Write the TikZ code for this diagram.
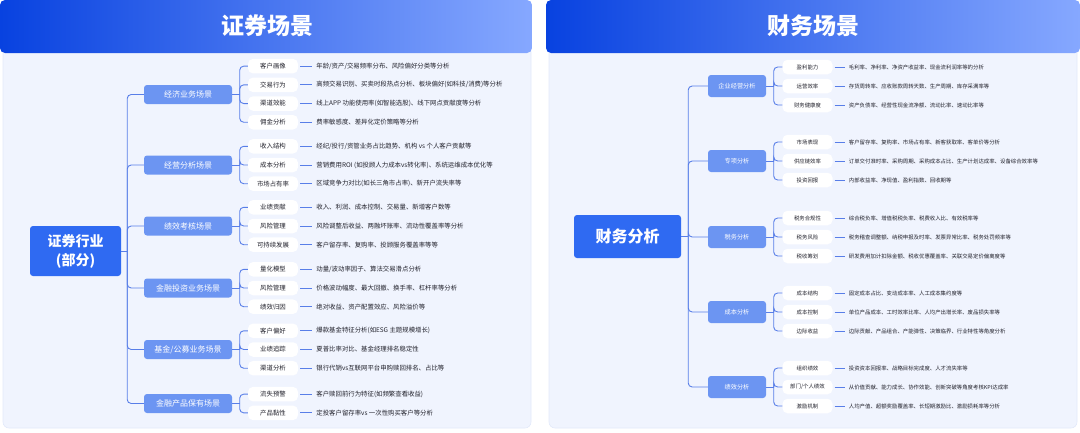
\documentclass[tikz,border=0pt]{standalone}
\usepackage{fontspec}
\newfontfamily\cjk{Noto Sans CJK SC}
\usetikzlibrary{positioning,calc}
\definecolor{zhulan}{RGB}{47,106,242}
\definecolor{fenlan}{RGB}{108,149,242}
\definecolor{xianlan}{RGB}{88,126,232}
\definecolor{dise}{RGB}{240,244,254}
\definecolor{bianse}{RGB}{226,233,250}
\definecolor{wenzi}{RGB}{35,35,45}
\definecolor{biaoshen}{RGB}{8,66,224}
\definecolor{biaoqian}{RGB}{134,168,255}
\tikzset{
  biaoti/.style={rounded corners=5pt,left color=biaoshen,right color=biaoqian},
  mianban/.style={rounded corners=6pt,fill=dise,draw=bianse,line width=0.6pt},
  zhu/.style={fill=zhulan,rounded corners=3pt,text=white,align=center,inner sep=0pt},
  fen/.style={fill=fenlan,rounded corners=3pt,text=white,inner sep=0pt,
              minimum width=88pt,minimum height=19pt},
  xiao/.style={fill=white,rounded corners=5pt,text=wenzi,inner sep=0pt,
               minimum width=50pt,minimum height=14.5pt},
  shuoming/.style={text=wenzi,inner sep=0pt},
  xian/.style={draw=xianlan,line width=0.9pt,rounded corners=4pt},
  duan/.style={draw=xianlan,line width=0.9pt},
}
% #1 parent, #2 x of the small boxes, #3 y before the first row, #4 row step, #5 gap, #6 rows
\newcommand{\fenzhi}[6]{%
  \draw[xian] (#1.east) -- ++(7.5,0) coordinate (#1k);
  \foreach \ming/\shuo [count=\k] in {#6}{
    \node[xiao] (#1-\k) at (#2,#3+#4*\k) {\ming};
    \node[shuoming,right=#5 of #1-\k] (#1-\k-s) {\shuo};
    \draw[duan] ([xshift=2pt]#1-\k.east) -- ([xshift=-4pt]#1-\k-s.west);
    \draw[xian] (#1k) |- (#1-\k.west);
  }}

\begin{document}
\begin{tikzpicture}[x=1pt,y=-1pt,font=\cjk]
\useasboundingbox (0,0) rectangle (1080,432);

% ---- 证券场景 ----
\path[mianban] (3,46) rectangle (531,428);
\path[biaoti] (0,0) rectangle (532,53);
\node[text=white,font=\cjk\bfseries\fontsize{23}{26}\selectfont] (t1) at (267,26) {证券场景};
\node[zhu,minimum width=91pt,minimum height=50pt,font=\cjk\bfseries\fontsize{14}{19}\selectfont]
  (zq) at (75.5,251) {证券行业\\(部分)};
\begin{scope}[font=\cjk\fontsize{6.4}{8}\selectfont]
  \foreach \y/\ming [count=\i] in {94.5/经济业务场景,165/经营分析场景,226/绩效考核场景,
      288/金融投资业务场景,349.5/{基金/公募业务场景},403.5/金融产品保有场景}
    \node[fen,font=\cjk\fontsize{8}{10}\selectfont] (z\i) at (188,\y) {\ming};
  \draw[xian] (zq.east) -- ++(6,0) coordinate (zqk);
  \foreach \i in {1,...,6} \draw[xian] (zqk) |- (z\i.west);
  \fenzhi{z1}{273}{47.45}{18.7}{18pt}{客户画像/{年龄/资产/交易频率分布、风险偏好分类等分析},
    交易行为/{高频交易识别、买卖时段热点分析、板块偏好(如科技/消费)等分析},
    渠道效能/{线上APP 功能使用率(如智能选股)、线下网点贡献度等分析},
    佣金分析/{费率敏感度、差异化定价策略等分析}}
  \fenzhi{z2}{273}{127.6}{18.7}{18pt}{收入结构/{经纪/投行/资管业务占比趋势、机构 vs 个人客户贡献等},
    成本分析/{营销费用ROI (如投顾人力成本vs转化率)、系统运维成本优化等},
    市场占有率/{区域竞争力对比(如长三角市占率)、新开户流失率等}}
  \fenzhi{z3}{273}{188.6}{18.7}{18pt}{业绩贡献/{收入、利润、成本控制、交易量、新增客户数等},
    风险管理/{风险调整后收益、两融坏账率、流动性覆盖率等分析},
    可持续发展/{客户留存率、复购率、投顾服务覆盖率等等}}
  \fenzhi{z4}{273}{250.6}{18.7}{18pt}{量化模型/{动量/波动率因子、算法交易滑点分析},
    风险管理/{价格波动幅度、最大回撤、换手率、杠杆率等分析},
    绩效归因/{绝对收益、资产配置效应、风险溢价等}}
  \fenzhi{z5}{273}{312.1}{18.7}{18pt}{客户偏好/{爆款基金特征分析(如ESG 主题规模增长)},
    业绩追踪/{夏普比率对比、基金经理排名稳定性},
    渠道分析/{银行代销vs互联网平台申购赎回排名、占比等}}
  \fenzhi{z6}{273}{375.45}{18.7}{18pt}{流失预警/{客户赎回前行为特征(如频繁查看收益)},
    产品黏性/{定投客户留存率vs 一次性购买客户等分析}}
\end{scope}

% ---- 财务场景 ----
\path[mianban] (549,46) rectangle (1077,428);
\path[biaoti] (546,0) rectangle (1080,53);
\node[text=white,font=\cjk\bfseries\fontsize{23}{26}\selectfont] (t2) at (813,26) {财务场景};
\node[zhu,minimum width=107pt,minimum height=43pt,font=\cjk\bfseries\fontsize{16}{19}\selectfont]
  (zr) at (627.5,236.5) {财务分析};
\begin{scope}[font=\cjk\fontsize{5.4}{7}\selectfont]
  \foreach \y/\ming [count=\i] in {86/企业经营分析,161/专项分析,237/税务分析,312/成本分析,387/绩效分析}
    \node[fen,minimum width=58pt,minimum height=22pt,font=\cjk\fontsize{6.2}{8}\selectfont]
      (c\i) at (737,\y) {\ming};
  \draw[xian] (zr.east) -- ++(7,0) coordinate (zrk);
  \foreach \i in {1,...,5} \draw[xian] (zrk) |- (c\i.west);
  \fenzhi{c1}{807.5}{48}{19}{16pt}{盈利能力/{毛利率、净利率、净资产收益率、现金流利润率等的分析},
    运营效率/{存货周转率、应收账款周转天数、生产周期、库存采满率等},
    财务健康度/{资产负债率、经营性现金流净额、流动比率、速动比率等}}
  \fenzhi{c2}{807.5}{123}{19}{16pt}{市场表现/{客户留存率、复购率、市场占有率、新客获取率、客单价等分析},
    供应链效率/{订单交付准时率、采购周期、采购成本占比、生产计划达成率、设备综合效率等},
    投资回报/{内部收益率、净现值、盈利指数、回收期等}}
  \fenzhi{c3}{807.5}{199}{19}{16pt}{税务合规性/{综合税负率、增值税税负率、税费收入比、有效税率等},
    税务风险/{税务稽查调整额、纳税申报及时率、发票异常比率、税务处罚频率等},
    税收筹划/{研发费用加计扣除金额、税收优惠覆盖率、关联交易定价偏离度等}}
  \fenzhi{c4}{807.5}{274}{19}{16pt}{成本结构/{固定成本占比、变动成本率、人工成本集约度等},
    成本控制/{单位产品成本、工时效率比率、人均产出增长率、废品损失率等},
    边际收益/{边际贡献、产品组合、产能弹性、决策临界、行业特性等角度分析}}
  \fenzhi{c5}{807.5}{349}{19}{16pt}{组织绩效/{投资资本回报率、战略目标完成度、人才流失率等},
    {部门/个人绩效}/{从价值贡献、能力成长、协作效能、创新突破等角度考核KPI达成率},
    激励机制/{人均产值、超额奖励覆盖率、长短期激励比、激励损耗率等分析}}
\end{scope}
\end{tikzpicture}
\end{document}
